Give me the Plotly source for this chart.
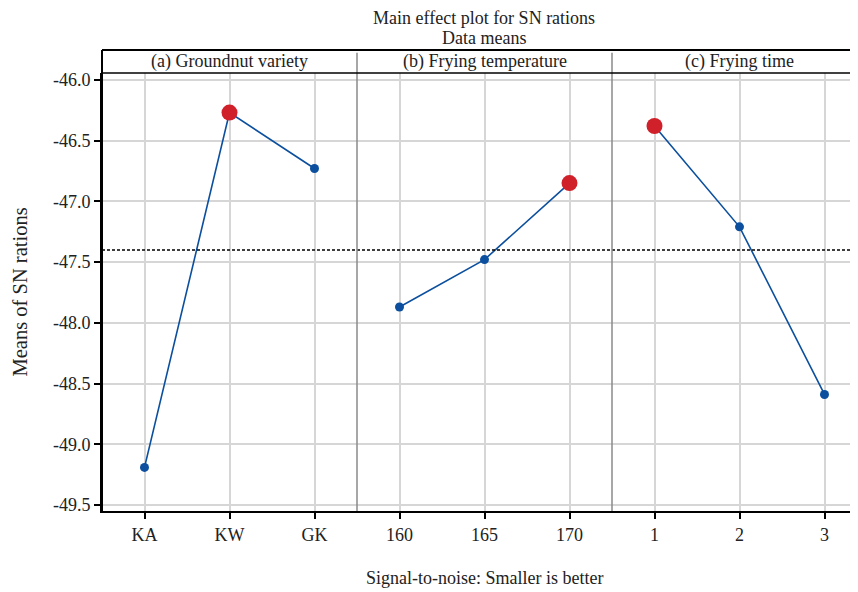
import plotly.graph_objects as go

# ---- data ----
factor_names = ["(a) Groundnut variety", "(b) Frying temperature", "(c) Frying time"]
levels_a = ["KA", "KW", "GK"]
values_a = [-49.19, -46.27, -46.73]
levels_b = ["160", "165", "170"]
values_b = [-47.87, -47.48, -46.85]
levels_c = ["1", "2", "3"]
values_c = [-46.38, -47.21, -48.59]
grand_mean = -47.40
y_tick_vals = [-46.0, -46.5, -47.0, -47.5, -48.0, -48.5, -49.0, -49.5]
y_tick_text = ["-46.0", "-46.5", "-47.0", "-47.5", "-48.0", "-48.5", "-49.0", "-49.5"]

BLUE = "#0b4f9e"
RED = "#d0202a"
FONT = "Liberation Serif"
TXT = "#222222"

groups = [(levels_a, values_a), (levels_b, values_b), (levels_c, values_c)]

# page body has an 8px margin: figure coordinates are shifted by 8px
W, H = 850, 584
L, T = 94, 65
plot_w = 756
plot_h = 438
R = W - L - plot_w
B = H - T - plot_h
strip_h = 23 / plot_h

fig = go.Figure()
tickvals, ticktext = [], []
for g, (levels, vals) in enumerate(groups):
    off = 3 * g
    xs = [off + 0.5 + i for i in range(len(levels))]
    tickvals += xs
    ticktext += levels
    best = max(range(len(vals)), key=lambda i: vals[i])
    fig.add_trace(go.Scatter(
        x=xs, y=vals, mode="lines", line=dict(color=BLUE, width=1.6),
        showlegend=False, hoverinfo="skip"))
    fig.add_trace(go.Scatter(
        x=[x for i, x in enumerate(xs) if i != best],
        y=[v for i, v in enumerate(vals) if i != best],
        mode="markers", marker=dict(color=BLUE, size=9),
        showlegend=False))
    fig.add_trace(go.Scatter(
        x=[xs[best]], y=[vals[best]], mode="markers",
        marker=dict(color=RED, size=16), showlegend=False))
    fig.add_annotation(x=off + 1.5, xref="x", y=1 + strip_h / 2, yref="paper",
                       text=factor_names[g], showarrow=False,
                       font=dict(family=FONT, size=18, color=TXT),
                       xanchor="center", yanchor="middle")

# grand mean line
fig.add_shape(type="line", xref="paper", x0=0, x1=1, yref="y",
              y0=grand_mean, y1=grand_mean,
              line=dict(color="black", width=1.5, dash="3px,2px"))

# panel separators
for sx in [3, 6]:
    fig.add_shape(type="line", xref="x", x0=sx, x1=sx, yref="paper",
                  y0=0, y1=1 + strip_h - 0.006,
                  line=dict(color="#8a8a8a", width=1.5))

# strip borders
fig.add_shape(type="line", xref="paper", x0=0, x1=1, yref="paper",
              y0=1 + strip_h, y1=1 + strip_h, line=dict(color="black", width=2))
fig.add_shape(type="line", xref="paper", x0=0, x1=1, yref="paper",
              y0=1, y1=1, line=dict(color="black", width=1.5))
fig.add_shape(type="line", xref="paper", x0=0, x1=0, yref="paper",
              y0=0, y1=1 + strip_h, line=dict(color="black", width=2))

cx = (476 - L) / plot_w
fig.add_annotation(x=cx, xref="paper", y=1 + (T - 9.5) / plot_h,
                   yref="paper", text="Main effect plot for SN rations",
                   showarrow=False, font=dict(family=FONT, size=18, color=TXT),
                   xanchor="center", yanchor="middle")
fig.add_annotation(x=cx, xref="paper", y=1 + (T - 30) / plot_h,
                   yref="paper", text="Data means",
                   showarrow=False, font=dict(family=FONT, size=18, color=TXT),
                   xanchor="center", yanchor="middle")
fig.add_annotation(x=cx, xref="paper", y=-(570 - (T + plot_h)) / plot_h,
                   yref="paper", text="Signal-to-noise: Smaller is better",
                   showarrow=False, font=dict(family=FONT, size=18, color=TXT),
                   xanchor="center", yanchor="middle")
fig.add_annotation(x=-(L - 11.5) / plot_w, xref="paper", y=0.5, yref="paper",
                   text="Means of SN rations", textangle=-90,
                   showarrow=False, font=dict(family=FONT, size=20.5, color=TXT),
                   xanchor="center", yanchor="middle")

fig.update_xaxes(range=[0, plot_w / 85], tickmode="array", tickvals=tickvals,
                 ticktext=ticktext, showgrid=True, gridcolor="#d6d6d6", gridwidth=1.5,
                 showline=True, linecolor="black", linewidth=2,
                 ticks="outside", ticklen=6, tickwidth=1.5, tickcolor="black",
                 tickfont=dict(family=FONT, size=18, color=TXT), zeroline=False)
fig.update_yaxes(range=[-49.549, -45.944], tickmode="array", tickvals=y_tick_vals,
                 ticktext=y_tick_text, showgrid=True, gridcolor="#d6d6d6", gridwidth=1.5,
                 showline=True, linecolor="black", linewidth=2,
                 ticks="outside", ticklen=6, tickwidth=1.5, tickcolor="black",
                 tickfont=dict(family=FONT, size=18, color=TXT), zeroline=False)

fig.update_layout(width=W, height=H, margin=dict(l=L, r=R, t=T, b=B),
                  plot_bgcolor="white", paper_bgcolor="white",
                  font=dict(family=FONT))

fig.write_html("out.html")
